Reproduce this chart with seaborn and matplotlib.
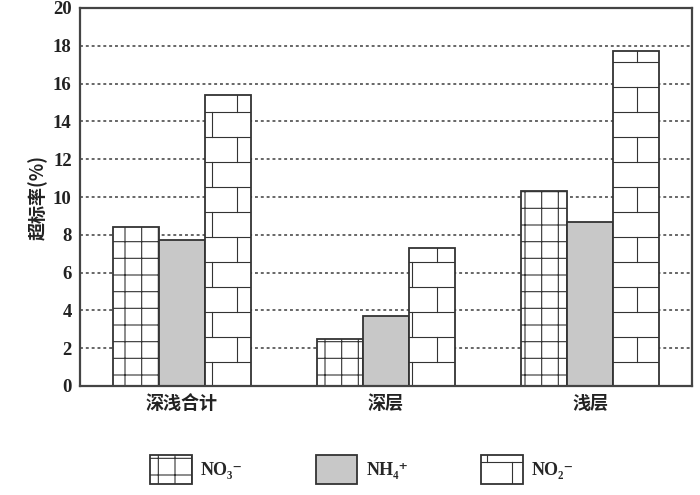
import numpy as np
import pandas as pd
import matplotlib
matplotlib.use("Agg")
import matplotlib.pyplot as plt
import matplotlib.hatch as mhatch
from matplotlib.path import Path
import seaborn as sns

# ---------------- data ----------------
categories = ['深浅合计', '深层', '浅层']
ions = ['NO₃⁻', 'NH₄⁺', 'NO₂⁻']
no3_values = [8.4, 2.5, 10.3]
nh4_values = [7.7, 3.7, 8.7]
no2_values = [15.4, 7.3, 17.7]
y_ticks = [0, 2, 4, 6, 8, 10, 12, 14, 16, 18, 20]


# ---------------- custom brick hatch ('b') ----------------
class BrickHatch(mhatch.HatchPatternBase):
    def __init__(self, hatch, density):
        n = hatch.count('b')
        self.segs = []
        if n:
            rows, cols = 4 * n, 2 * n
            h = 1.0 / rows
            ys = [(i + 0.5) * h for i in range(rows)]
            for y in ys:
                self.segs.append(((0.0, y), (1.0, y)))
            for k, y in enumerate(ys):
                off = 0.25 if k % 2 == 0 else 0.75
                for j in range(cols):
                    x = (j + off) / cols
                    y1 = y + h
                    if y1 <= 1.0:
                        self.segs.append(((x, y), (x, y1)))
                    else:
                        self.segs.append(((x, y), (x, 1.0)))
                        self.segs.append(((x, 0.0), (x, y1 - 1.0)))
        self.num_vertices = 2 * len(self.segs)

    def set_vertices_and_codes(self, vertices, codes):
        for i, (a, b) in enumerate(self.segs):
            vertices[2 * i] = a
            vertices[2 * i + 1] = b
            codes[2 * i] = Path.MOVETO
            codes[2 * i + 1] = Path.LINETO


mhatch._hatch_types.append(BrickHatch)
mhatch._validate_hatch_pattern = lambda hatch: None

# ---------------- style ----------------
sns.set_style("white")
plt.rcParams['font.family'] = ['Liberation Serif', 'Noto Sans CJK SC', 'DejaVu Serif']
plt.rcParams['hatch.linewidth'] = 0.8
plt.rcParams['hatch.color'] = '#333333'

df = pd.DataFrame({
    'cat': np.repeat(categories, 3),
    'ion': ions * 3,
    'val': [v for trio in zip(no3_values, nh4_values, no2_values) for v in trio],
})

fig = plt.figure(figsize=(7, 4.95), dpi=100)
ax = fig.add_axes([80 / 700, 1 - 386 / 495, 612 / 700, 378 / 495])

sns.barplot(data=df, x='cat', y='val', hue='ion', hue_order=ions, order=categories,
            palette=['white', '#c8c8c8', 'white'], width=0.68, gap=0,
            edgecolor='#333333', linewidth=1.3, saturation=1, legend=False, ax=ax)

for cont, hatch in zip(ax.containers, ['+', '', 'b']):
    for p in cont:
        p.set_hatch(hatch)

ax.set_xlim(-0.5, 2.5)
ax.set_ylim(0, 20)
ax.set_yticks(y_ticks)
ax.set_yticklabels([str(t) for t in y_ticks], fontsize=13.5, fontweight='bold', color='#222222')
ax.set_xticks(range(len(categories)))
ax.set_xticklabels(categories, fontsize=13, fontweight='bold', color='#222222',
                   family=['Noto Sans CJK SC', 'DejaVu Sans'])
ax.set_xticks([0.5, 1.5], minor=True)
ax.tick_params(axis='x', which='major', length=0, pad=6)
ax.tick_params(axis='x', which='minor', direction='in', length=7, width=2.2, color='#333333')
ax.tick_params(axis='y', length=0, pad=6)
ax.set_xlabel('')
ax.set_ylabel('超标率(%)', fontsize=13, fontweight='bold', color='#222222',
              family=['Noto Sans CJK SC', 'DejaVu Sans'], labelpad=4)

ax.yaxis.grid(True, linestyle=(0, (1.5, 1.5)), color='#666666', linewidth=1.4)
ax.xaxis.grid(False)
ax.set_axisbelow(True)
for s in ax.spines.values():
    s.set_color('#444444')
    s.set_linewidth(1.6)
    s.set_visible(True)

fig.legend(ax.containers, ions, loc='upper center', bbox_to_anchor=(362 / 700, 1 - 455 / 495),
           ncol=3, frameon=False, handlelength=2.3, handleheight=2.1, columnspacing=4.05,
           handletextpad=0.5, borderaxespad=0, borderpad=0,
           prop={'family': ['Liberation Serif', 'DejaVu Serif'], 'weight': 'bold', 'size': 13})

fig.savefig('out.png', dpi=100)
